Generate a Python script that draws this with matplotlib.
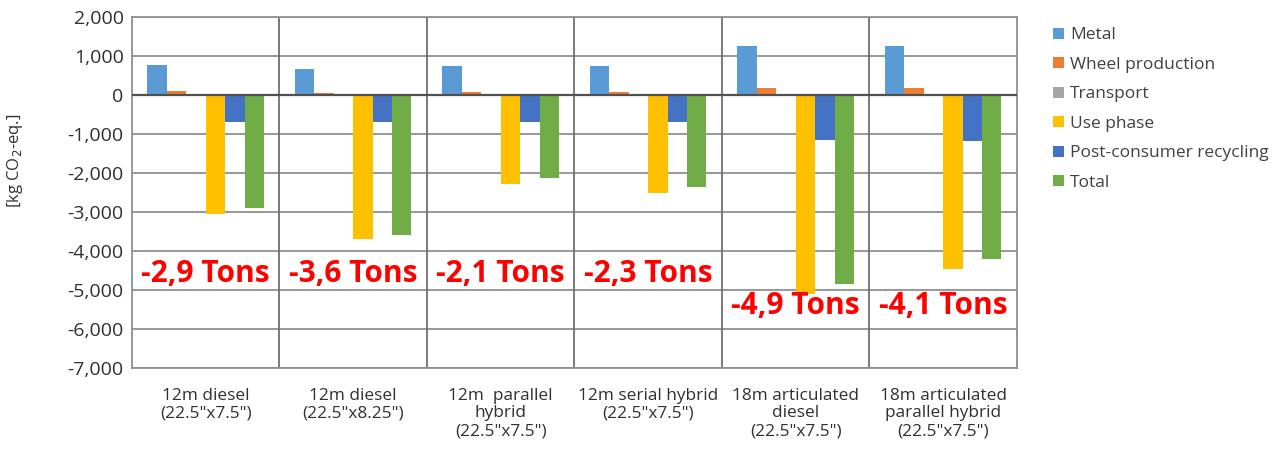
import matplotlib.pyplot as plt
import numpy as np
from matplotlib.patches import Patch

plt.rcParams['font.family'] = ['Open Sans', 'DejaVu Sans']

# 数据
categories = ['12m diesel\n(22.5"x7.5")',
              '12m diesel\n(22.5"x8.25")',
              '12m  parallel\nhybrid\n(22.5"x7.5")',
              '12m serial hybrid\n(22.5"x7.5")',
              '18m articulated\ndiesel\n(22.5"x7.5")',
              '18m articulated\nparallel hybrid\n(22.5"x7.5")']
series = ['Metal', 'Wheel production', 'Transport', 'Use phase',
          'Post-consumer recycling', 'Total']
metal = [760, 680, 750, 750, 1270, 1270]
wheel = [100, 60, 90, 90, 170, 170]
transport = [5, 5, 5, 5, 8, 8]
use_phase = [-3050, -3700, -2280, -2520, -5090, -4470]
recycling = [-700, -680, -680, -680, -1160, -1170]
total = [-2900, -3580, -2130, -2360, -4840, -4190]
tons_labels = ['-2,9 Tons', '-3,6 Tons', '-2,1 Tons', '-2,3 Tons', '-4,9 Tons', '-4,1 Tons']
tons_y = [-4580, -4580, -4580, -4580, -5420, -5420]

colors = ['#5B9BD5', '#ED7D31', '#A5A5A5', '#FFC000', '#4472C4', '#70AD47']
values = [metal, wheel, transport, use_phase, recycling, total]

fig = plt.figure(figsize=(12.76, 4.5), dpi=100)
ax = fig.add_axes([0.1034, 0.182, 0.6936, 0.780])

x = np.arange(len(categories))
n = len(series)
bw = 0.79 / n
for i, (vals, c) in enumerate(zip(values, colors)):
    ax.bar(x - 0.395 + bw * (i + 0.5), vals, width=bw, color=c, zorder=3)

# 网格
ax.set_ylim(-7000, 2000)
ax.set_xlim(-0.5, len(categories) - 0.5)
ax.set_yticks(range(-7000, 2001, 1000))
ax.set_yticklabels([f'{v:,}' for v in range(-7000, 2001, 1000)], fontsize=14,
                   color='#303030')
for yv in range(-7000, 2001, 1000):
    ax.axhline(yv, color='#909090', lw=1.3, zorder=1)
for xv in np.arange(0.5, len(categories) - 0.5, 1):
    ax.axvline(xv, color='#707070', lw=1.3, zorder=1)
ax.axhline(0, color='#505050', lw=1.6, zorder=4)
for s in ax.spines.values():
    s.set_color('#909090')
    s.set_linewidth(1.3)
ax.tick_params(length=0, pad=6)

ax.set_xticks(x)
ax.set_xticklabels(categories, fontsize=12.4, va='top', linespacing=1.15,
                   color='#303030')
ax.tick_params(axis='x', pad=14)

fig.text(15 / 1276, 1 - 161 / 450, '[kg CO$_2$-eq.]', fontsize=12, rotation=90,
         ha='center', va='center', color='#303030')

for xi, lab, yv in zip(x, tons_labels, tons_y):
    ax.text(xi, yv, lab, color='#ff0000', fontsize=21.5, fontweight='bold',
            ha='center', va='center', zorder=5)

handles = [Patch(facecolor=c, label=s) for c, s in zip(colors, series)]
fig.legend(handles=handles, loc='upper left', bbox_to_anchor=(0.82, 0.955),
           frameon=False, fontsize=12.5, handlelength=0.6, handleheight=0.6,
           handletextpad=0.35, labelspacing=0.78, labelcolor='#404040',
           borderaxespad=0)

fig.savefig('out.png', dpi=100)
